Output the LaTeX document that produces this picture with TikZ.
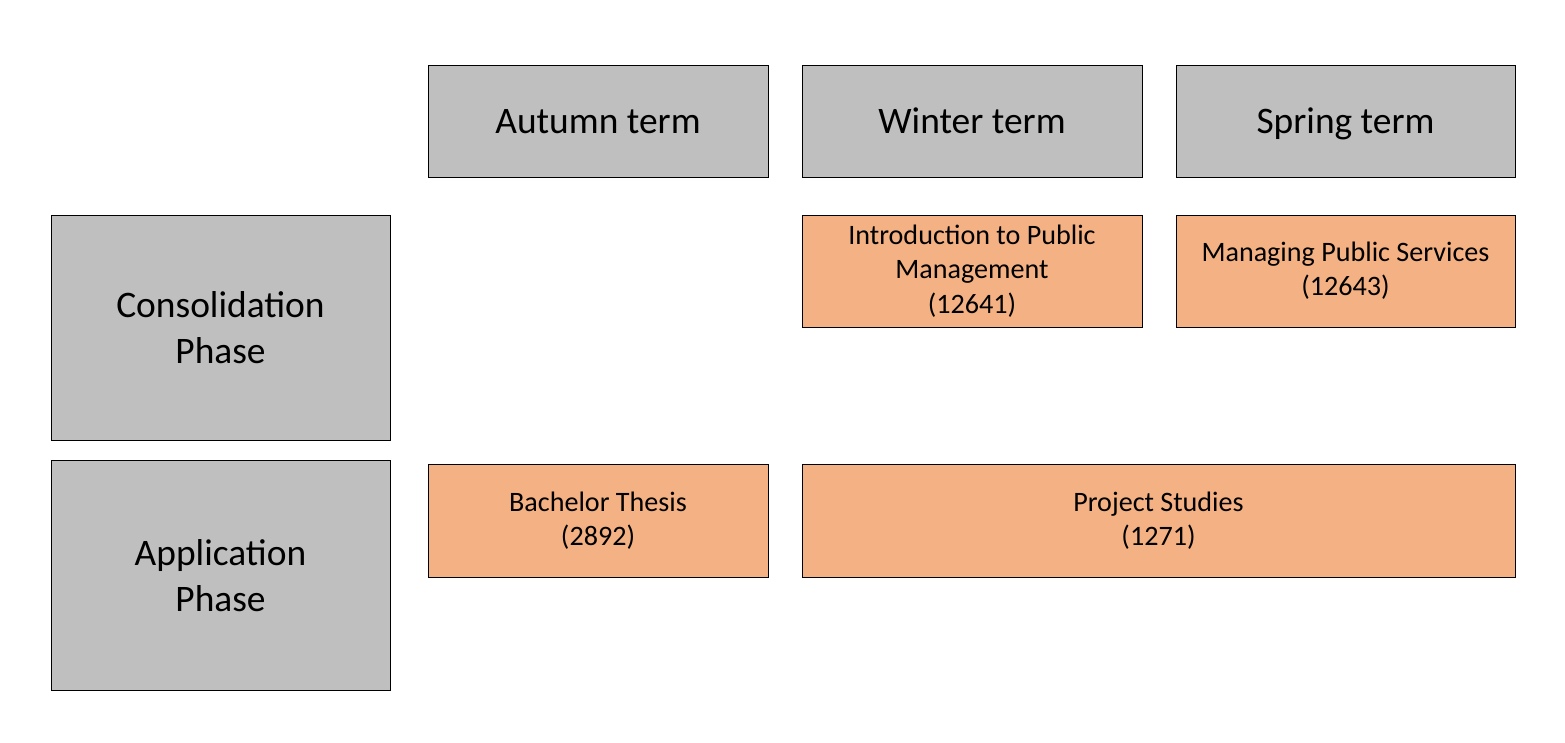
\documentclass[tikz,border=0pt]{standalone}
\usepackage{fontspec}
\setmainfont{Carlito}
\usetikzlibrary{positioning}

\definecolor{headgray}{HTML}{BFBFBF}
\definecolor{courseorange}{HTML}{F4B183}

\tikzset{
  headbox/.style={draw=black, fill=headgray, line width=0.5pt, align=center,
    inner sep=0pt, text height=13.7pt, text depth=0pt, font=\fontsize{21.3}{25}\selectfont},
  phasebox/.style={draw=black, fill=headgray, line width=0.5pt, align=center,
    inner sep=0pt, font=\fontsize{21.3}{26}\selectfont},
  coursebox/.style={draw=black, fill=courseorange, line width=0.5pt, align=center,
    inner sep=0pt, font=\fontsize{16}{19.5}\selectfont}
}

\begin{document}
\begin{tikzpicture}
  \useasboundingbox (0,0) rectangle (31.3,14.84);

  % Terms
  \node[headbox, minimum width=6.8cm, minimum height=2.24cm] (autumn) at (11.96,12.42) {Autumn term};
  \node[headbox, minimum width=6.8cm, minimum height=2.24cm] (winter) at (19.44,12.42) {Winter term};
  \node[headbox, minimum width=6.78cm, minimum height=2.24cm] (spring) at (26.91,12.42) {Spring term};

  % Phases
  \node[phasebox, minimum width=6.78cm, minimum height=4.5cm] (consol) at (4.41,8.29) {Consolidation\\Phase};
  \node[phasebox, minimum width=6.78cm, minimum height=4.6cm] (applic) at (4.41,3.33) {Application\\Phase};

  % Consolidation courses
  \node[coursebox, minimum width=6.8cm, minimum height=2.24cm] (intro) at (19.44,9.42) {Introduction to Public\\Management\\(12641)};
  \node[coursebox, minimum width=6.78cm, minimum height=2.24cm] (managing) at (26.91,9.42) {Managing Public Services\\(12643)};

  % Application courses
  \node[coursebox, minimum width=6.8cm, minimum height=2.26cm] (thesis) at (11.96,4.43) {Bachelor Thesis\\(2892)};
  \node[coursebox, minimum width=14.26cm, minimum height=2.26cm] (project) at (23.17,4.43) {Project Studies\\(1271)};
\end{tikzpicture}
\end{document}
